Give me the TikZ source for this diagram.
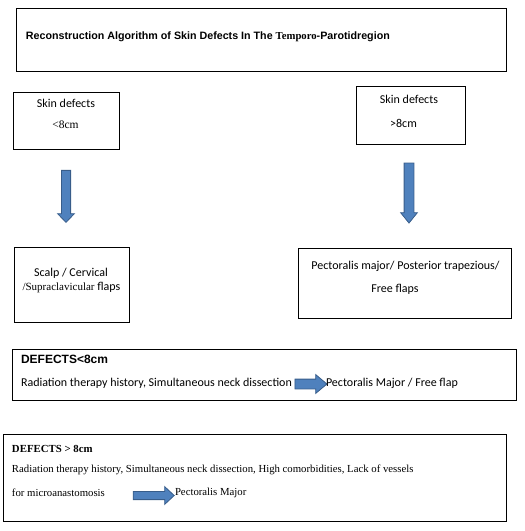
\documentclass[tikz,border=0pt]{standalone}
\usepackage{fontspec}
\setmainfont{Liberation Serif}
\newfontfamily\calfont{Carlito}
\newfontfamily\arifont{Liberation Sans}
\usetikzlibrary{shapes.arrows}
\definecolor{arrfill}{HTML}{4F81BD}
\definecolor{arrline}{HTML}{385D8A}
\begin{document}
\begin{tikzpicture}[x=1pt,y=-1pt,
  box/.style={draw=black,line width=0.9pt,inner sep=0pt,outer sep=0pt,anchor=north west},
  txt/.style={inner sep=0pt,outer sep=0pt},
  calt/.style={txt,font=\calfont\fontsize{12}{14}\selectfont},
  sert/.style={txt,font=\fontsize{10.75}{12}\selectfont},
  blockarrow/.style={single arrow,draw=arrline,fill=arrfill,line width=0.8pt,inner xsep=0pt,outer sep=0pt}]
\useasboundingbox (0,0) rectangle (525,531);
% title
\node[box,minimum width=490,minimum height=63] (title) at (16,8) {};
\node[txt,anchor=west,font=\arifont\bfseries\fontsize{10.7}{12}\selectfont] (titletext) at (26,37)
  {Reconstruction Algorithm of Skin Defects In The {\rmfamily Temporo}-Parotidregion};
% skin defect boxes
\node[box,minimum width=106,minimum height=57] (small) at (13,92) {};
\node[calt] (smallA) at (66,103) {Skin defects};
\node[sert,font=\fontsize{11.5}{13}\selectfont] (smallB) at (65.5,125) {<8cm};
\node[box,minimum width=109,minimum height=58] (large) at (356,86) {};
\node[calt] (largeA) at (409,99) {Skin defects};
\node[calt] (largeB) at (403.5,123) {>8cm};
% down arrows
\node[blockarrow,rotate=-90,minimum height=52,inner ysep=4.2pt,single arrow head extend=3.8,single arrow tip angle=88] (arrL) at (66,194) {};
\node[blockarrow,rotate=-90,minimum height=60,inner ysep=4.5pt,single arrow head extend=3.5,single arrow tip angle=78] (arrR) at (409,190) {};
% flap boxes
\node[box,minimum width=115,minimum height=75] (flapL) at (14,247) {};
\node[calt] (flapLA) at (71,273) {Scalp / Cervical};
\node[sert,font=\fontsize{11}{13}\selectfont] (flapLB) at (71.5,288) {/Supraclavicular {\calfont\fontsize{12}{14}\selectfont flaps}};
\node[box,minimum width=213,minimum height=70] (flapR) at (298,248) {};
\node[calt] (flapRA) at (405.5,266) {Pectoralis major/ Posterior trapezious/};
\node[calt] (flapRB) at (395,289) {Free flaps};
% defects < 8cm
\node[box,minimum width=504,minimum height=51] (defS) at (12,349) {};
\node[txt,anchor=west,font=\arifont\bfseries\fontsize{12}{14}\selectfont] (defSA) at (21,359) {DEFECTS<8cm};
\node[calt,anchor=west] (defSB) at (21,383) {Radiation therapy history, Simultaneous neck dissection};
\node[blockarrow,minimum height=32,inner ysep=4.5pt,single arrow head extend=4.5,single arrow tip angle=80] (arrS) at (308,384) {};
\node[calt,anchor=west] (defSC) at (326,383) {Pectoralis Major / Free flap};
% defects > 8cm
\node[box,minimum width=503,minimum height=87] (defL) at (3,434) {};
\node[txt,anchor=west,font=\bfseries\fontsize{10.8}{12}\selectfont] (defLA) at (12,449) {DEFECTS > 8cm};
\node[sert,anchor=west] (defLB) at (12,470) {Radiation therapy history, Simultaneous neck dissection, High comorbidities, Lack of vessels};
\node[sert,anchor=west] (defLC) at (12,493) {for microanastomosis};
\node[blockarrow,minimum height=41,inner ysep=3.7pt,single arrow head extend=4.8,single arrow tip angle=86] (arrB) at (151.5,495.5) {};
\node[sert,anchor=west] (defLD) at (175,493) {Pectoralis Major};
\end{tikzpicture}
\end{document}
